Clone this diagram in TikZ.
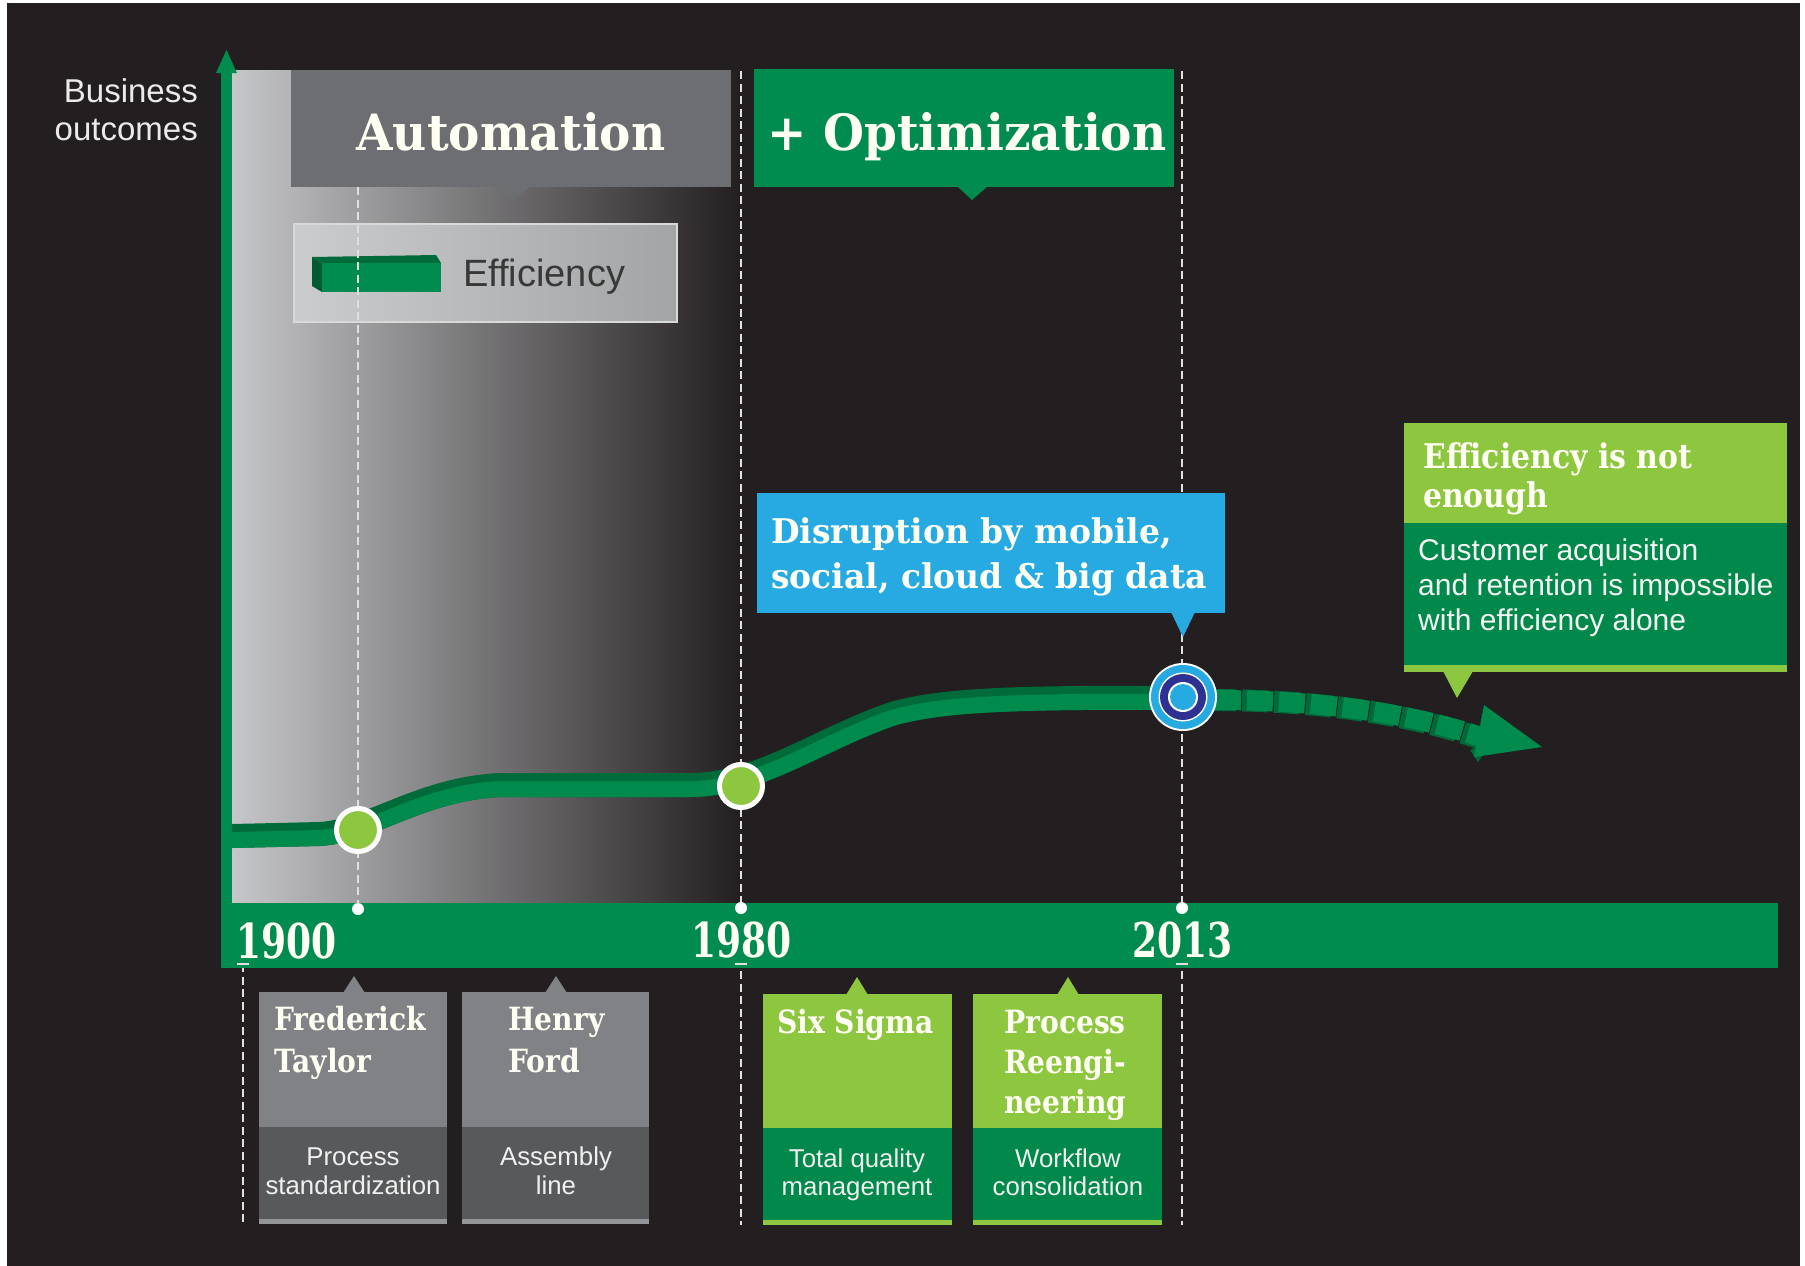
\documentclass[tikz,border=0pt]{standalone}
\usepackage{fontspec}
\setmainfont{Liberation Sans}
\newfontfamily\slabfont{DejaVu Serif}[FakeStretch=0.88]
\newfontfamily\slabhead{DejaVu Serif}[FakeStretch=0.94]
\newfontfamily\slabcall{DejaVu Serif}[FakeStretch=0.97]
\newfontfamily\slabyear{DejaVu Serif}[FakeStretch=0.75]
\newfontfamily\helv{Liberation Sans}
\newcommand\fsz[2]{\fontsize{#1}{#2}\selectfont}
\definecolor{bg}{HTML}{231F20}
\definecolor{panelL}{HTML}{C6C7C9}
\definecolor{effL}{HTML}{CBCCCE}
\definecolor{effR}{HTML}{A3A4A6}
\definecolor{autogray}{HTML}{6D6E71}
\definecolor{boxgray}{HTML}{808285}
\definecolor{boxdark}{HTML}{58595B}
\definecolor{boxstrip}{HTML}{939598}
\definecolor{igreen}{HTML}{008C4F}
\definecolor{dgreen}{HTML}{00894A}
\definecolor{lgreen}{HTML}{8DC63F}
\definecolor{ribdark}{HTML}{006B3A}
\definecolor{riblight}{HTML}{008A4C}
\definecolor{cyanblue}{HTML}{27AAE1}
\definecolor{navy}{HTML}{2E3192}
\definecolor{dashcol}{HTML}{E0E0E0}
\definecolor{cream}{HTML}{FFFFF4}
\begin{document}
\begin{tikzpicture}[x=1pt,y=-1pt,
  slabH/.style={font={\slabhead\bfseries\fsz{50}{50}}, text=cream, inner sep=0pt},
  slabM/.style={font={\slabcall\bfseries\fsz{34}{34}}, text=cream, inner sep=0pt},
  slabN/.style={font={\slabfont\bfseries\fsz{34}{34}}, text=cream, inner sep=0pt},
  slabY/.style={font={\slabyear\bfseries\fsz{48}{48}}, text=cream, inner sep=0pt},
  slabS/.style={font={\slabfont\bfseries\fsz{32}{32}}, text=cream, inner sep=0pt},
  sansE/.style={font={\helv\fsz{38}{38}}, text=black!78, inner sep=0pt},
  sansB/.style={font={\helv\fsz{33}{33}}, text=black!8, inner sep=0pt},
  sansC/.style={font={\helv\fsz{30}{30}}, text=black!4, inner sep=0pt},
  sansS/.style={font={\helv\fsz{25.8}{25.8}}, text=black!6, inner sep=0pt},
  dashv/.style={draw=dashcol, line width=2.4pt, dash pattern=on 8pt off 4.5pt},
  tickmark/.style={draw=dashcol, line width=2pt},
  milestone/.style={circle, fill=lgreen, draw=white, line width=5pt, minimum size=43pt, inner sep=0pt},
  bardot/.style={circle, fill=white, minimum size=12pt, inner sep=0pt}]
\useasboundingbox (0,0) rectangle (1805,1266);
\fill[white] (0,0) rectangle (1805,1266);
\fill[bg] (7,3) rectangle (1800,1266);

% shaded automation era panel
\shade[left color=panelL, right color=bg] (231,70) rectangle (741,903);

% vertical axis
\fill[igreen] (221,968) rectangle (232,70);
\fill[igreen] (216,73) -- (237,73) -- (226.5,50) -- cycle;

% era headers
\fill[autogray] (291,70) rectangle (731,187);
\fill[autogray] (494,186) -- (531,186) -- (513,200) -- cycle;
\node[slabH, anchor=base] (automation) at (511,150) {Automation};
\fill[igreen] (754,69) rectangle (1174,187);
\fill[igreen] (957,186) -- (988,186) -- (972,200) -- cycle;
\node[slabH, anchor=base] (optimization) at (967,150) {+ Optimization};

% legend
\shade[left color=effL, right color=effR] (294,224) rectangle (677,322);
\draw[black!15, line width=1.5pt] (294,224) rectangle (677,322);
\fill[ribdark!85!black] (312,257) -- (322,263) -- (322,292) -- (312,286) -- cycle;
\fill[ribdark] (312,257) -- (436,255) -- (441,263) -- (322,263) -- cycle;
\fill[igreen] (322,263) rectangle (441,292);
\node[sansE, anchor=base west] (efflabel) at (463,286) {Efficiency};

% axis label
\node[sansB, anchor=base east] (bus1) at (198,102) {Business};
\node[sansB, anchor=base east] (bus2) at (198,140) {outcomes};

% year guide lines
\coordinate (taylortop) at (358,187);
\coordinate (taylordot) at (358,909);
\coordinate (y1900a) at (243,964);
\coordinate (y1900b) at (243,1225);
\coordinate (y1980a) at (741,71);
\coordinate (y1980dot) at (741,908);
\coordinate (y1980b) at (741,1225);
\coordinate (y2013a) at (1182,71);
\coordinate (y2013dot) at (1182,908);
\coordinate (y2013b) at (1182,1225);
\draw[dashv] (taylortop) -- (taylordot);
\draw[dashv] (y1900a) -- (y1900b);
\draw[dashv] (y1980a) -- (y1980b);
\draw[dashv] (y2013a) -- (y2013b);

% timeline bar
\fill[igreen] (221,903) rectangle (1778,968);
\node[bardot] (d1) at (taylordot) {};
\node[bardot] (d2) at (y1980dot) {};
\node[bardot] (d3) at (y2013dot) {};
\draw[tickmark] (237,964) -- (249,964);
\draw[tickmark] (735,964) -- (747,964);
\draw[tickmark] (1176,964) -- (1188,964);
\node[slabY, anchor=base west] (t1900) at (236,958) {1900};
\node[slabY, anchor=base west] (t1980) at (691,957) {1980};
\node[slabY, anchor=base west] (t2013) at (1132,957) {2013};

% efficiency ribbon
\draw[ribdark, line width=24pt] (232,836) -- (320,834) .. controls (370,831) and (420,789) .. (500,785) -- (690,785) .. controls (760,785) and (820,738) .. (895,713) .. controls (945,700) and (1010,697) .. (1183,698);
\begin{scope}[yshift=-4pt]
\draw[riblight, line width=16pt] (232,836) -- (320,834) .. controls (370,831) and (420,789) .. (500,785) -- (690,785) .. controls (760,785) and (820,738) .. (895,713) .. controls (945,700) and (1010,697) .. (1183,698);
\end{scope}

% projected continuation
\begin{scope}[xshift=-5pt]
\draw[ribdark, line width=22pt, dash pattern=on 26pt off 6pt] (1215,700) .. controls (1330,700) and (1420,716) .. (1484,738);
\end{scope}
\draw[riblight, line width=20pt, dash pattern=on 26pt off 6pt] (1215,700) .. controls (1330,700) and (1420,716) .. (1484,738);
\fill[ribdark] (1470,750) -- (1492,741) -- (1478,762) -- cycle;
\fill[riblight] (1484,705) -- (1542,747) -- (1474,757) -- cycle;

% milestones
\node[milestone] (taylor) at (358,830) {};
\node[milestone] (m1980) at (741,786) {};
\fill[white] (1183,697) circle (34);
\fill[cyanblue] (1183,697) circle (32);
\fill[white] (1183,697) circle (24.5);
\fill[navy] (1183,697) circle (23);
\fill[white] (1183,697) circle (15);
\fill[cyanblue] (1183,697) circle (13);
\coordinate (now) at (1183,697);

% disruption callout
\fill[cyanblue] (757,493) rectangle (1225,613);
\fill[cyanblue] (1171,612) -- (1195,612) -- (1183,637) -- cycle;
\node[slabM, anchor=base west] (dis1) at (771,543) {Disruption by mobile,};
\node[slabM, anchor=base west] (dis2) at (771,588) {social, cloud \& big data};

% efficiency is not enough callout
\fill[lgreen] (1404,423) rectangle (1787,523);
\fill[dgreen] (1404,523) rectangle (1787,665);
\fill[lgreen] (1404,665) rectangle (1787,672);
\fill[lgreen] (1443,671) -- (1473,671) -- (1457,698) -- cycle;
\node[slabN, anchor=base west] (ne1) at (1423,468) {Efficiency is not};
\node[slabN, anchor=base west] (ne2) at (1423,507) {enough};
\node[sansC, anchor=base west] (cu1) at (1418,560) {Customer acquisition};
\node[sansC, anchor=base west] (cu2) at (1418,595) {and retention is impossible};
\node[sansC, anchor=base west] (cu3) at (1418,630) {with efficiency alone};

% pioneers
\fill[boxgray] (259,992) rectangle (447,1127);
\fill[boxdark] (259,1127) rectangle (447,1219);
\fill[boxstrip] (259,1219) rectangle (447,1224);
\fill[boxgray] (343,993) -- (365,993) -- (354,976) -- cycle;
\node[slabS, anchor=base west] (ft1) at (274,1030) {Frederick};
\node[slabS, anchor=base west] (ft2) at (274,1072) {Taylor};
\node[sansS, anchor=base] (ps1) at (353,1165) {Process};
\node[sansS, anchor=base] (ps2) at (353,1194) {standardization};

\fill[boxgray] (462,992) rectangle (649,1127);
\fill[boxdark] (462,1127) rectangle (649,1219);
\fill[boxstrip] (462,1219) rectangle (649,1224);
\fill[boxgray] (545,993) -- (567,993) -- (556,976) -- cycle;
\node[slabS, anchor=base west] (hf1) at (508,1030) {Henry};
\node[slabS, anchor=base west] (hf2) at (508,1072) {Ford};
\node[sansS, anchor=base] (al1) at (556,1165) {Assembly};
\node[sansS, anchor=base] (al2) at (556,1194) {line};

\fill[lgreen] (763,994) rectangle (952,1128);
\fill[dgreen] (763,1128) rectangle (952,1220);
\fill[lgreen] (763,1220) rectangle (952,1225);
\fill[lgreen] (846,995) -- (868,995) -- (857,977) -- cycle;
\node[slabS, anchor=base west] (ss1) at (777,1033) {Six Sigma};
\node[sansS, anchor=base] (tq1) at (857,1167) {Total quality};
\node[sansS, anchor=base] (tq2) at (857,1195) {management};

\fill[lgreen] (973,994) rectangle (1162,1128);
\fill[dgreen] (973,1128) rectangle (1162,1220);
\fill[lgreen] (973,1220) rectangle (1162,1225);
\fill[lgreen] (1057,995) -- (1079,995) -- (1068,977) -- cycle;
\node[slabS, anchor=base west] (pr1) at (1004,1033) {Process};
\node[slabS, anchor=base west] (pr2) at (1004,1073) {Reengi-};
\node[slabS, anchor=base west] (pr3) at (1004,1113) {neering};
\node[sansS, anchor=base] (wc1) at (1068,1167) {Workflow};
\node[sansS, anchor=base] (wc2) at (1068,1195) {consolidation};
\end{tikzpicture}
\end{document}
